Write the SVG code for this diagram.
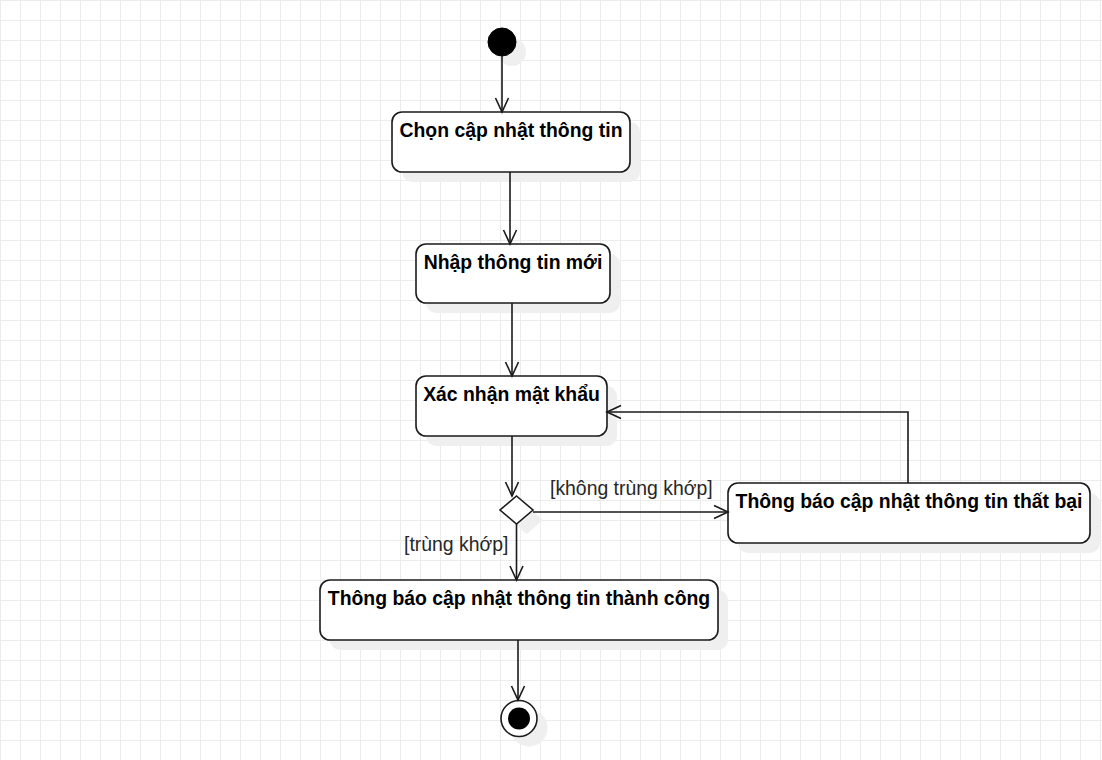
<svg xmlns="http://www.w3.org/2000/svg" width="1102" height="760" viewBox="0 0 1102 760">
  <defs>
    <pattern id="grid" width="20" height="20" patternUnits="userSpaceOnUse">
      <path d="M0 0.5H20M0.5 0V20" fill="none" stroke="#ececec" stroke-width="1"/>
    </pattern>
    <marker id="arrow" markerUnits="userSpaceOnUse" markerWidth="20" markerHeight="20" viewBox="-16 -10 20 20" refX="0" refY="0" orient="auto">
      <path d="M-14,-6.5 L0,0 L-14,6.5" fill="none" stroke="#1a1a1a" stroke-width="1.6"/>
    </marker>
    <filter id="blur" x="-20%" y="-20%" width="140%" height="140%">
      <feGaussianBlur stdDeviation="1.2"/>
    </filter>
  </defs>
  <style>
    .box { fill: #ffffff; stroke: #1a1a1a; stroke-width: 1.6; }
    .shadow { fill: #efefef; stroke: none; }
    .title { font-family: "Liberation Sans", Arial, sans-serif; font-weight: bold; font-size: 19.4px; fill: #000; text-anchor: middle; }
    .label { font-family: "Liberation Sans", Arial, sans-serif; font-size: 19.4px; fill: #262626; }
    .edge { fill: none; stroke: #1a1a1a; stroke-width: 1.6; }
  </style>
  <rect width="1102" height="760" fill="#ffffff"/>
  <rect width="1102" height="760" fill="url(#grid)"/>

  <g id="start">
    <circle class="shadow" cx="512" cy="52" r="14"/>
    <circle cx="502" cy="42" r="14" fill="#000" stroke="#000" stroke-width="1"/>
  </g>

  <g id="chon-cap-nhat">
    <rect class="shadow" x="402" y="122" width="238" height="60" rx="10"/>
    <rect class="box" x="392" y="112" width="238" height="60" rx="10"/>
    <text class="title" x="511" y="137">Chọn cập nhật thông tin</text>
  </g>

  <g id="nhap-thong-tin">
    <rect class="shadow" x="426" y="254" width="194" height="59" rx="10"/>
    <rect class="box" x="416" y="244" width="194" height="59" rx="10"/>
    <text class="title" x="513" y="269">Nhập thông tin mới</text>
  </g>

  <g id="xac-nhan">
    <rect class="shadow" x="426" y="386" width="191" height="60" rx="10"/>
    <rect class="box" x="416" y="376" width="191" height="60" rx="10"/>
    <text class="title" x="511.5" y="401">Xác nhận mật khẩu</text>
  </g>

  <g id="decision">
    <polygon class="shadow" points="526.5,506 543,520 526.5,534 510,520"/>
    <polygon class="box" points="516.5,496 533,510 516.5,524 500,510"/>
  </g>

  <g id="that-bai">
    <rect class="shadow" x="738" y="493" width="362" height="60" rx="10"/>
    <rect class="box" x="728" y="483" width="362" height="60" rx="10"/>
    <text class="title" x="909" y="508">Thông báo cập nhật thông tin thất bại</text>
  </g>

  <g id="thanh-cong">
    <rect class="shadow" x="330" y="590" width="398" height="60" rx="10"/>
    <rect class="box" x="320" y="580" width="398" height="60" rx="10"/>
    <text class="title" x="519" y="605">Thông báo cập nhật thông tin thành công</text>
  </g>

  <g id="end">
    <circle class="shadow" cx="529" cy="728" r="18.5"/>
    <circle cx="519" cy="718.5" r="18" fill="#fff" stroke="#1a1a1a" stroke-width="1.6"/>
    <circle cx="519" cy="718.5" r="11" fill="#000"/>
  </g>

  <g id="connectors">
    <path class="edge" d="M502,56 V112" marker-end="url(#arrow)"/>
    <path class="edge" d="M510,172 V244" marker-end="url(#arrow)"/>
    <path class="edge" d="M512,303 V376" marker-end="url(#arrow)"/>
    <path class="edge" d="M512,436 V496" marker-end="url(#arrow)"/>
    <path class="edge" d="M533,512 H728" marker-end="url(#arrow)"/>
    <path class="edge" d="M516.5,524 V580" marker-end="url(#arrow)"/>
    <path class="edge" d="M908,483 V412 H607" marker-end="url(#arrow)"/>
    <path class="edge" d="M518,640 V700" marker-end="url(#arrow)"/>
    <text class="label" x="550" y="495">[không trùng khớp]</text>
    <text class="label" x="404" y="551">[trùng khớp]</text>
  </g>
</svg>
